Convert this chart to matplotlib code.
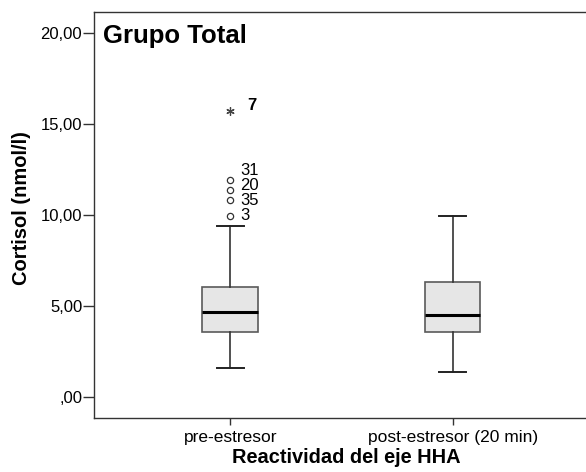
import matplotlib
matplotlib.use("Agg")
import matplotlib.pyplot as plt

plt.rcParams['font.family'] = ['Liberation Sans', 'DejaVu Sans']

categories = ["pre-estresor", "post-estresor (20 min)"]
whislo = [1.62, 1.37]
q1 = [3.55, 3.55]
med = [4.68, 4.53]
q3 = [6.04, 6.34]
whishi = [9.38, 9.95]
outlier_vals = [9.95, 10.82, 11.37, 11.92]
outlier_ids = ["3", "35", "20", "31"]
extreme_vals = [15.73]
extreme_ids = ["7"]
yticks = [0, 5, 10, 15, 20]
ytick_labels = [",00", "5,00", "10,00", "15,00", "20,00"]

fig = plt.figure(figsize=(5.86, 4.72), dpi=100)
ax = fig.add_axes([94/586, 1-418/472, 1-94/586, (418-12)/472])

stats = []
for i, c in enumerate(categories):
    stats.append(dict(label=c, whislo=whislo[i], q1=q1[i], med=med[i],
                      q3=q3[i], whishi=whishi[i], fliers=[]))

ax.bxp(stats, positions=[1, 2], widths=0.25, capwidths=0.12,
       showfliers=False, patch_artist=True,
       boxprops=dict(facecolor="#e6e6e6", edgecolor="#5a5a5a", linewidth=1.2),
       medianprops=dict(color="black", linewidth=2.2),
       whiskerprops=dict(color="#333333", linewidth=1.2),
       capprops=dict(color="#222222", linewidth=1.4))

ax.plot([1]*len(outlier_vals), outlier_vals, linestyle="none", marker="o",
        markersize=4.5, markerfacecolor="white", markeredgecolor="#333333",
        markeredgewidth=0.9)
ax.plot([1]*len(extreme_vals), extreme_vals, linestyle="none", marker=(6, 2, 0),
        markersize=6, markeredgewidth=0.9, color="#444444")

# label offsets (in points) to avoid overlap, as in original
label_dy = [0, 0, 3, 7]
for v, lab, dy in zip(outlier_vals, outlier_ids, label_dy):
    ax.annotate(lab, (1, v), xytext=(7, dy), textcoords="offset points",
                va="center", ha="left", fontsize=12)
for v, lab in zip(extreme_vals, extreme_ids):
    ax.annotate(lab, (1, v), xytext=(12, 4), textcoords="offset points",
                va="center", ha="left", fontsize=12, fontweight="bold")

ax.set_xlim(0.387, 2.6)
ax.set_ylim(-1.15, 21.15)
ax.set_yticks(yticks)
ax.set_yticklabels(ytick_labels, fontsize=12)
ax.set_xticks([1, 2])
ax.set_xticklabels(categories, fontsize=12.5)
ax.spines['right'].set_visible(False)
for s in ['left', 'bottom', 'top']:
    ax.spines[s].set_color("#333333")
    ax.spines[s].set_linewidth(1.0)
ax.tick_params(axis='y', length=8, width=1.0, color="#333333", pad=0.5)
ax.tick_params(axis='x', length=5, width=1.0, color="#333333", pad=3.5)
ax.set_ylabel("Cortisol (nmol/l)", fontsize=14.5, fontweight="bold")
ax.yaxis.set_label_coords(-0.128, 0.517)
ax.set_xlabel("Reactividad del eje HHA", fontsize=14.4, fontweight="bold")
ax.xaxis.set_label_coords(0.512, -0.074)
ax.text(0.018, 0.9236, "Grupo Total", transform=ax.transAxes, fontsize=18.5,
        fontweight="bold", va="baseline", ha="left")

fig.savefig("out.png", dpi=100)
